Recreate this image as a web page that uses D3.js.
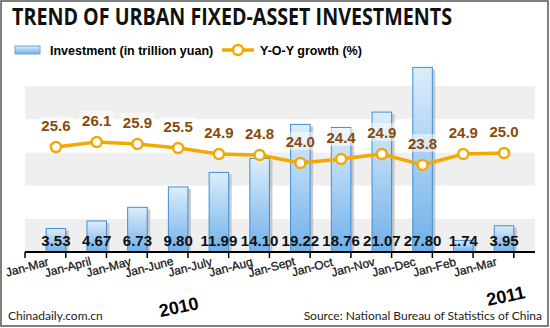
<!DOCTYPE html>
<html>
<head>
<meta charset="utf-8">
<script src="https://cdn.jsdelivr.net/npm/d3@7"></script>
<style>
  body { margin: 0; background: #fff; }
  svg { display: block; }
</style>
</head>
<body>
<div id="chart"></div>
<script>
// data
const months = ["Jan-Mar", "Jan-April", "Jan-May", "Jan-June", "Jan-July", "Jan-Aug",
  "Jan-Sept", "Jan-Oct", "Jan-Nov", "Jan-Dec", "Jan-Feb", "Jan-Mar "];
const investment = [3.53, 4.67, 6.73, 9.80, 11.99, 14.10, 19.22, 18.76, 21.07, 27.80, 1.74, 3.95];
const growth = [25.6, 26.1, 25.9, 25.5, 24.9, 24.8, 24.0, 24.4, 24.9, 23.8, 24.9, 25.0];
const bandStops = [0, 5, 10, 15, 20, 25];

const width = 550, height = 328;
const margin = { top: 86, right: 15, bottom: 76, left: 25 };

const svg = d3.select("#chart").append("svg")
  .attr("width", width)
  .attr("height", height);

const defs = svg.append("defs");
const grad = defs.append("linearGradient")
  .attr("id", "barGrad")
  .attr("x1", 0).attr("y1", 0).attr("x2", 0).attr("y2", 1);
grad.append("stop").attr("offset", "0%").attr("stop-color", "#dcedfb");
grad.append("stop").attr("offset", "100%").attr("stop-color", "#6fb0ea");

const x = d3.scaleBand()
  .domain(d3.range(months.length))
  .range([margin.left, width - margin.right])
  .padding(0.52);

const y = d3.scaleLinear()
  .domain([0, 25])
  .range([height - margin.bottom, margin.top]);

// growth axis (hidden)
const y2 = d3.scaleLinear()
  .domain([20, 30])
  .range([203, 103]);

svg.append("rect")
  .attr("x", 1).attr("y", 1)
  .attr("width", width - 3).attr("height", height - 3)
  .attr("fill", "#fff")
  .attr("stroke", "#555")
  .attr("stroke-width", 1.5);

// alternating bands
svg.append("g")
  .selectAll("rect")
  .data(d3.pairs(bandStops))
  .join("rect")
  .attr("x", margin.left)
  .attr("width", width - margin.right - margin.left)
  .attr("y", d => y(d[1]))
  .attr("height", d => y(d[0]) - y(d[1]))
  .attr("fill", (d, i) => i % 2 == 0 ? "#efefef" : "#fff");

// bar shadows
svg.append("g")
  .selectAll("rect")
  .data(investment)
  .join("rect")
  .attr("x", (d, i) => x(i) + 3)
  .attr("y", d => y(d) + 2)
  .attr("width", x.bandwidth())
  .attr("height", d => y(0) - y(d) - 2)
  .attr("fill", "#b5b5b5")
  .attr("opacity", 0.7);

svg.append("g")
  .selectAll("rect")
  .data(investment)
  .join("rect")
  .attr("x", (d, i) => x(i))
  .attr("y", d => y(d))
  .attr("width", x.bandwidth())
  .attr("height", d => y(0) - y(d))
  .attr("fill", "url(#barGrad)")
  .attr("stroke", "#3f8ed4")
  .attr("stroke-width", 1);

// x axis
const xAxis = svg.append("g")
  .attr("transform", `translate(0,${y(0)})`);
xAxis.append("line")
  .attr("x1", margin.left).attr("x2", width - margin.right)
  .attr("stroke", "#000").attr("stroke-width", 2);
xAxis.selectAll("line.tick")
  .data(d3.range(months.length + 1))
  .join("line")
  .attr("class", "tick")
  .attr("x1", i => margin.left + i * x.step())
  .attr("x2", i => margin.left + i * x.step())
  .attr("y1", 0).attr("y2", 6)
  .attr("stroke", "#000").attr("stroke-width", 1.5);

svg.append("g")
  .selectAll("text")
  .data(months)
  .join("text")
  .attr("transform", (d, i) => `translate(${x(i) - 18},${y(0) + 19}) rotate(-15)`)
  .attr("text-anchor", "middle")
  .attr("font-family", "Liberation Sans, Arial, sans-serif")
  .attr("font-size", 12)
  .attr("stroke", "#111")
  .attr("stroke-width", 0.25)
  .attr("fill", "#111")
  .text(d => d.trim());

// bar values
svg.append("g")
  .selectAll("text")
  .data(investment)
  .join("text")
  .attr("x", (d, i) => x(i) + x.bandwidth() / 2)
  .attr("y", y(0) - 6)
  .attr("text-anchor", "middle")
  .attr("font-family", "Liberation Sans, Arial, sans-serif")
  .attr("font-weight", "bold")
  .attr("font-size", 15)
  .attr("fill", "#111")
  .text(d => d.toFixed(2));

// growth line
const line = d3.line()
  .x((d, i) => x(i) + x.bandwidth() / 2)
  .y(d => y2(d));

svg.append("path")
  .datum(growth)
  .attr("d", line)
  .attr("fill", "none")
  .attr("stroke", "#f2a900")
  .attr("stroke-width", 3.5);

svg.append("g")
  .selectAll("circle")
  .data(growth)
  .join("circle")
  .attr("cx", (d, i) => x(i) + x.bandwidth() / 2)
  .attr("cy", d => y2(d))
  .attr("r", 5)
  .attr("fill", "#fff")
  .attr("stroke", "#f2a900")
  .attr("stroke-width", 2.5);

const glabels = svg.append("g");
glabels.selectAll("rect")
  .data(growth)
  .join("rect")
  .attr("x", (d, i) => x(i) + x.bandwidth() / 2 - 17)
  .attr("y", d => y2(d) - 31)
  .attr("width", 34)
  .attr("height", 18)
  .attr("fill", "#fff")
  .attr("opacity", 0.5);
glabels.selectAll("text")
  .data(growth)
  .join("text")
  .attr("x", (d, i) => x(i) + x.bandwidth() / 2)
  .attr("y", d => y2(d) - 16)
  .attr("text-anchor", "middle")
  .attr("font-family", "Liberation Sans, Arial, sans-serif")
  .attr("font-weight", "bold")
  .attr("font-size", 15)
  .attr("fill", "#8a4a0c")
  .text(d => d.toFixed(1));

// years
svg.append("text")
  .attr("transform", "translate(180,313) rotate(-12)")
  .attr("text-anchor", "middle")
  .attr("font-family", "Liberation Sans, Arial, sans-serif")
  .attr("font-weight", "bold")
  .attr("font-size", 18)
  .text("2010");
svg.append("text")
  .attr("transform", "translate(507,302) rotate(-12)")
  .attr("text-anchor", "middle")
  .attr("font-family", "Liberation Sans, Arial, sans-serif")
  .attr("font-weight", "bold")
  .attr("font-size", 18)
  .text("2011");

// title
svg.append("text")
  .attr("x", 12).attr("y", 25)
  .attr("font-family", "Open Sans, sans-serif")
  .attr("font-weight", "bold")
  .attr("font-size", 23)
  .attr("textLength", 440)
  .attr("lengthAdjust", "spacingAndGlyphs")
  .attr("fill", "#111")
  .text("TREND OF URBAN FIXED-ASSET INVESTMENTS");

// legend
svg.append("rect")
  .attr("x", 15).attr("y", 46).attr("width", 25).attr("height", 8)
  .attr("fill", "url(#barGrad)")
  .attr("stroke", "#6aa8e0");
svg.append("text")
  .attr("x", 50).attr("y", 55)
  .attr("font-family", "Liberation Sans, Arial, sans-serif")
  .attr("font-weight", "bold")
  .attr("font-size", 12.5)
  .text("Investment (in trillion yuan)");
svg.append("line")
  .attr("x1", 222).attr("x2", 254).attr("y1", 50).attr("y2", 50)
  .attr("stroke", "#f2a900").attr("stroke-width", 3.5);
svg.append("circle")
  .attr("cx", 238).attr("cy", 50).attr("r", 5)
  .attr("fill", "#fff").attr("stroke", "#f2a900").attr("stroke-width", 2.5);
svg.append("text")
  .attr("x", 260).attr("y", 55)
  .attr("font-family", "Liberation Sans, Arial, sans-serif")
  .attr("font-weight", "bold")
  .attr("font-size", 12.5)
  .text("Y-O-Y growth (%)");

// footer
svg.append("text")
  .attr("x", 8).attr("y", 320)
  .attr("font-family", "Lato, sans-serif")
  .attr("font-size", 12)
  .attr("fill", "#222")
  .text("Chinadaily.com.cn");
svg.append("text")
  .attr("x", 542).attr("y", 320)
  .attr("text-anchor", "end")
  .attr("font-family", "Lato, sans-serif")
  .attr("font-size", 12)
  .attr("fill", "#222")
  .text("Source: National Bureau of Statistics of China");
</script>
</body>
</html>
